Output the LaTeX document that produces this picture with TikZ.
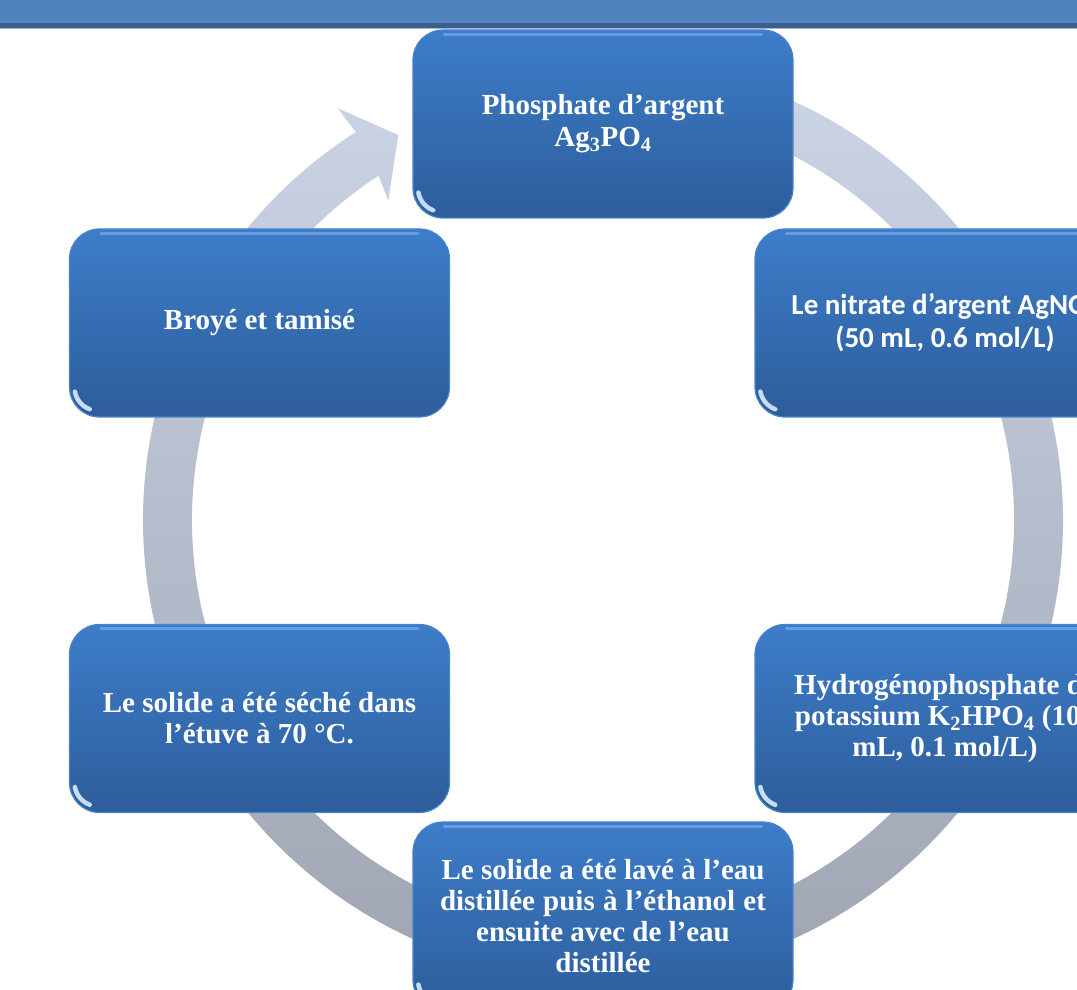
\documentclass[tikz,border=0pt]{standalone}
\usepackage{fontspec}
\setmainfont{Liberation Serif}
\newfontfamily\calibfont{Carlito}
\usetikzlibrary{calc}
\definecolor{barBlue}{RGB}{80,130,189}
\definecolor{barDark}{RGB}{58,95,140}
\definecolor{barLight}{RGB}{160,182,212}
\definecolor{boxTop}{RGB}{61,125,201}
\definecolor{boxBot}{RGB}{45,93,155}
\definecolor{boxEdge}{RGB}{72,132,204}
\definecolor{hlBlue}{RGB}{130,178,235}
\definecolor{glintCol}{RGB}{215,235,255}
\definecolor{ringTop}{RGB}{205,214,232}
\definecolor{ringBot}{RGB}{158,164,176}
\begin{document}
\begin{tikzpicture}[x=1pt,y=1pt,
  stepbox/.style={rounded corners=30pt, top color=boxTop, bottom color=boxBot,
    draw=boxEdge, line width=1.2pt, minimum width=380pt, minimum height=188pt,
    inner sep=0pt, text=white, align=center,
    font=\bfseries\fontsize{29}{31}\selectfont},
  sansbox/.style={stepbox, font=\calibfont\bfseries\fontsize{29}{33}\selectfont},
  hl/.style={hlBlue, line width=3pt, line cap=round, opacity=0.6},
  glint/.style={glintCol, line width=4.5pt, line cap=round, opacity=0.9},
  ring/.style={top color=ringTop, bottom color=ringBot}]
\useasboundingbox (0,0) rectangle (1077,989);
\clip (0,0) rectangle (1077,989);
% header bar
\fill[barBlue] (0,966) rectangle (1077,989);
\fill[barDark] (0,961) rectangle (1077,966);
\fill[barLight] (0,959.5) rectangle (1077,961);
% circular arrow
\coordinate (C) at (603,469);
\path[ring] ($(C)+(95:460)$) arc[start angle=95, end angle=-237.5, radius=460]
  -- ($(C)+(122.8:490)$) -- ($(C)+(118:436)$) -- ($(C)+(123.9:385)$)
  -- ($(C)+(-236.9:411)$) arc[start angle=-236.9, end angle=95, radius=411] -- cycle;
% boxes
\node[stepbox] (top) at (603,865) {Phosphate d’argent\\[1pt]Ag\textsubscript{3}PO\textsubscript{4}};
\node[sansbox] (rtop) at (945,666) {Le nitrate d’argent AgNO\textsubscript{3}\\(50 mL, 0.6 mol/L)};
\node[stepbox] (rbot) at (945,270.5) {Hydrogénophosphate de\\potassium K\textsubscript{2}HPO\textsubscript{4} (100\\mL, 0.1 mol/L)};
\node[stepbox] (bot) at (603,73) {\makebox[323pt][s]{Le solide a été lavé à l’eau}\\\makebox[326pt][s]{distillée puis à l’éthanol et}\\ensuite avec de l’eau\\distillée};
\node[stepbox] (lbot) at (259.5,270.5) {Le solide a été séché dans\\l’étuve à 70 °C.};
\node[stepbox] (ltop) at (259.5,666) {Broyé et tamisé};
\foreach \n in {top,rtop,rbot,bot,lbot,ltop} {
  \draw[hl] ([xshift=32pt,yshift=-5pt]\n.north west) -- ([xshift=-32pt,yshift=-5pt]\n.north east);
  \draw[glint] ([shift={(6pt,26pt)}]\n.south west) arc[start angle=190, end angle=250, radius=23pt];
}
\end{tikzpicture}
\end{document}
